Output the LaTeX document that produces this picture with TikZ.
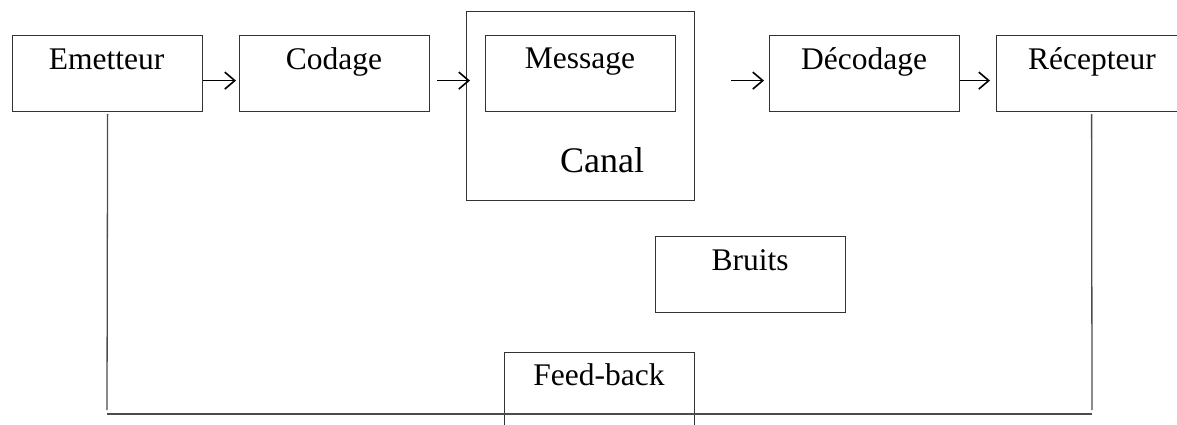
\documentclass[tikz,border=0pt]{standalone}
\usepackage{fontspec}
\setmainfont{Liberation Serif}
\usetikzlibrary{arrows.meta}
\begin{document}
\begin{tikzpicture}[x=1pt,y=-1pt,
  box/.style={draw=black!80,line width=1.2pt,minimum width=190pt,minimum height=76pt,inner sep=0pt,anchor=north west},
  lbl/.style={anchor=base,inner sep=0pt,font=\fontsize{31.5}{36}\selectfont},
  arr/.style={-{Straight Barb[length=10pt,width=17pt,line width=1.6pt]},line width=1.6pt,black},
  fbline/.style={draw=black!70,line width=1.3pt}]
\clip (0,0) rectangle (1177,425);
\useasboundingbox (0,0) rectangle (1177,425);
% boxes
\node[box] (emet) at (12,35) {};
\node[box] (cod) at (239,35) {};
\node[box,minimum width=228pt,minimum height=189pt] (canal) at (466,11) {};
\node[box] (msg) at (485,35) {};
\node[box] (dec) at (769,35) {};
\node[box] (rec) at (996,35) {};
\node[box] (bruits) at (655,236) {};
\node[box,minimum height=80pt] (fb) at (504,352) {};
% labels
\node[lbl] (temet) at (106.5,70) {Emetteur};
\node[lbl] (tcod) at (334,70) {Codage};
\node[lbl] (tmsg) at (580,69) {Message};
\node[lbl,font=\fontsize{36}{42}\selectfont] (tcanal) at (602,172) {Canal};
\node[lbl] (tdec) at (864,70) {Décodage};
\node[lbl] (trec) at (1092,70) {Récepteur};
\node[lbl] (tbruits) at (750,270) {Bruits};
\node[lbl] (tfb) at (599,385) {Feed-back};
% arrows
\draw[arr] ([yshift=-7pt]emet.east) -- ([xshift=-3pt,yshift=-7pt]cod.west);
\draw[arr] ([xshift=7pt,yshift=-7pt]cod.east) -- ([xshift=4pt,yshift=-7pt]msg.west -| canal.west);
\draw[arr] ([xshift=36pt,yshift=-7pt]msg.east -| canal.east) -- ([xshift=-5pt,yshift=-7pt]dec.west);
\draw[arr] ([yshift=-7pt]dec.east) -- ([xshift=-6pt,yshift=-7pt]rec.west);
% feedback loop
\coordinate (fbl) at (107,414);
\coordinate (fbr) at (1092,414);
\draw[fbline] ([yshift=-2pt]emet.south) -- ([yshift=4pt]fbl);
\draw[fbline] ([yshift=-2pt]rec.south) -- ([yshift=4pt]fbr);
\draw[fbline] (fbl) -- (fbr);
\end{tikzpicture}
\end{document}
